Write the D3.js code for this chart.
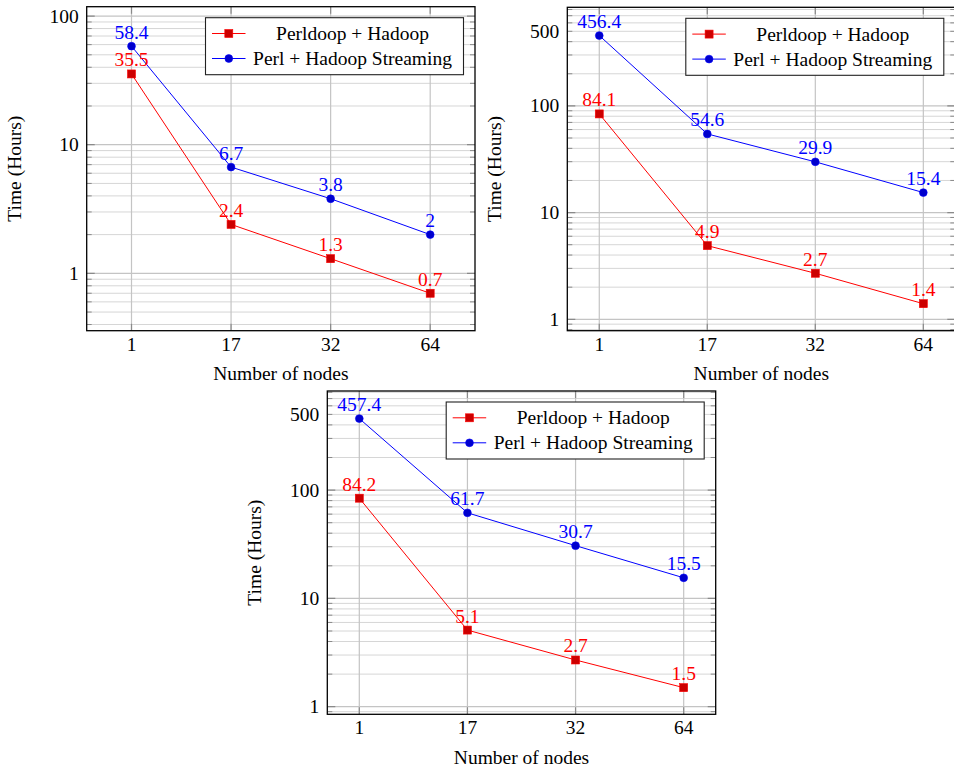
<!DOCTYPE html>
<html>
<head>
<meta charset="utf-8">
<script src="https://cdn.jsdelivr.net/npm/d3@7/dist/d3.min.js"></script>
<style>
  html, body { margin: 0; padding: 0; background: #fff; }
  svg { display: block; }
  text { font-family: "Liberation Serif", "Times New Roman", serif; }
</style>
</head>
<body>
<svg id="chart" width="954" height="771"></svg>
<script>
// ---- Data ----
const nodes = ["1", "17", "32", "64"];
const seriesNames = ["Perldoop + Hadoop", "Perl + Hadoop Streaming"];

const perldoopA = [35.5, 2.4, 1.3, 0.7];
const streamingA = [58.4, 6.7, 3.8, 2];

const perldoopB = [84.1, 4.9, 2.7, 1.4];
const streamingB = [456.4, 54.6, 29.9, 15.4];

const perldoopC = [84.2, 5.1, 2.7, 1.5];
const streamingC = [457.4, 61.7, 30.7, 15.5];

const yTickLabelsA = [1, 10, 100];
const yTickLabelsBC = [1, 10, 100, 500];

const xLabel = "Number of nodes";
const yLabel = "Time (Hours)";

// ---- Layout (panel frames and log-domain) ----
const panels = [
  { left: 86.7, top: 6.7, right: 475, bottom: 330.7, logLo: -0.446, logHi: 2.073, xpad: 0.45,
    red: perldoopA, blue: streamingA, yticks: yTickLabelsA },
  { left: 567.3, top: 7.3, right: 955.3, bottom: 330.7, logLo: -0.107, logHi: 2.924, xpad: 0.296,
    red: perldoopB, blue: streamingB, yticks: yTickLabelsBC },
  { left: 327.3, top: 391, right: 715.7, bottom: 714.3, logLo: -0.070, logHi: 2.915, xpad: 0.296,
    red: perldoopC, blue: streamingC, yticks: yTickLabelsBC }
];

const FS = 19.5;
const RED_LINE = "#ff0000", RED_FILL = "#cc0000";
const BLUE_LINE = "#0000ff", BLUE_FILL = "#0000cc";

const svg = d3.select("#chart");

function drawPanel(p) {
  const g = svg.append("g");
  const x = d3.scalePoint().domain(nodes).range([p.left, p.right]).padding(p.xpad);
  const y = d3.scaleLog().domain([Math.pow(10, p.logLo), Math.pow(10, p.logHi)]).range([p.bottom, p.top]);

  // clip
  const cid = "clip" + Math.round(p.left);
  svg.append("clipPath").attr("id", cid).append("rect")
    .attr("x", p.left).attr("y", p.top).attr("width", p.right - p.left).attr("height", p.bottom - p.top);
  const inner = g.append("g").attr("clip-path", `url(#${cid})`);

  const [d0, d1] = y.domain();
  const majors = [], minors = [];
  for (let e = Math.floor(Math.log10(d0)); e <= Math.ceil(Math.log10(d1)); e++) {
    const b = Math.pow(10, e);
    if (b >= d0 && b <= d1) majors.push(b);
    for (let k = 2; k <= 9; k++) {
      const v = k * b;
      if (v >= d0 && v <= d1) minors.push(v);
    }
  }

  // minor grid
  inner.selectAll(".mg").data(minors).join("line")
    .attr("x1", p.left).attr("x2", p.right)
    .attr("y1", d => y(d)).attr("y2", d => y(d))
    .attr("stroke", "#d6d6d6").attr("stroke-width", 1);
  // major grid
  inner.selectAll(".Mg").data(majors).join("line")
    .attr("x1", p.left).attr("x2", p.right)
    .attr("y1", d => y(d)).attr("y2", d => y(d))
    .attr("stroke", "#c4c4c4").attr("stroke-width", 1.2);
  inner.selectAll(".xg").data(nodes).join("line")
    .attr("x1", d => x(d)).attr("x2", d => x(d))
    .attr("y1", p.top).attr("y2", p.bottom)
    .attr("stroke", "#c4c4c4").attr("stroke-width", 1.2);

  // ticks (inward, both sides)
  const tickCol = "#8a8a8a";
  [p.left, p.right].forEach((ex, i) => {
    const dir = i === 0 ? 1 : -1;
    inner.selectAll(null).data(minors).join("line")
      .attr("x1", ex).attr("x2", ex + dir * 5)
      .attr("y1", d => y(d)).attr("y2", d => y(d))
      .attr("stroke", tickCol).attr("stroke-width", 1);
    inner.selectAll(null).data(majors).join("line")
      .attr("x1", ex).attr("x2", ex + dir * 8)
      .attr("y1", d => y(d)).attr("y2", d => y(d))
      .attr("stroke", tickCol).attr("stroke-width", 1.2);
  });
  [p.bottom, p.top].forEach((ey, i) => {
    const dir = i === 0 ? -1 : 1;
    inner.selectAll(null).data(nodes).join("line")
      .attr("x1", d => x(d)).attr("x2", d => x(d))
      .attr("y1", ey).attr("y2", ey + dir * 7)
      .attr("stroke", tickCol).attr("stroke-width", 1.2);
  });

  // series
  const line = d3.line().x((d, i) => x(nodes[i])).y(d => y(d));
  inner.append("path").datum(p.red).attr("d", line)
    .attr("fill", "none").attr("stroke", RED_LINE).attr("stroke-width", 1);
  inner.append("path").datum(p.blue).attr("d", line)
    .attr("fill", "none").attr("stroke", BLUE_LINE).attr("stroke-width", 1);

  const sq = 8;
  g.selectAll(null).data(p.red).join("rect")
    .attr("x", (d, i) => x(nodes[i]) - sq / 2).attr("y", d => y(d) - sq / 2)
    .attr("width", sq).attr("height", sq)
    .attr("fill", RED_FILL).attr("stroke", RED_LINE).attr("stroke-width", 0.6);
  g.selectAll(null).data(p.blue).join("circle")
    .attr("cx", (d, i) => x(nodes[i])).attr("cy", d => y(d)).attr("r", 3.9)
    .attr("fill", BLUE_FILL).attr("stroke", BLUE_LINE).attr("stroke-width", 0.6);

  // value labels
  g.selectAll(null).data(p.red).join("text")
    .attr("x", (d, i) => x(nodes[i])).attr("y", d => y(d) - 7.5)
    .attr("text-anchor", "middle").attr("font-size", FS).attr("fill", RED_LINE)
    .text(d => String(d));
  g.selectAll(null).data(p.blue).join("text")
    .attr("x", (d, i) => x(nodes[i])).attr("y", d => y(d) - 7.5)
    .attr("text-anchor", "middle").attr("font-size", FS).attr("fill", BLUE_LINE)
    .text(d => String(d));

  // frame
  g.append("rect").attr("x", p.left).attr("y", p.top)
    .attr("width", p.right - p.left).attr("height", p.bottom - p.top)
    .attr("fill", "none").attr("stroke", "#000").attr("stroke-width", 1.3);

  // tick labels
  g.selectAll(null).data(p.yticks).join("text")
    .attr("x", p.left - 8).attr("y", d => y(d)).attr("dy", "0.33em")
    .attr("text-anchor", "end").attr("font-size", FS).attr("fill", "#000")
    .text(d => String(d));
  g.selectAll(null).data(nodes).join("text")
    .attr("x", d => x(d)).attr("y", p.bottom + 20)
    .attr("text-anchor", "middle").attr("font-size", FS).attr("fill", "#000")
    .text(d => d);

  // axis labels
  g.append("text").attr("x", (p.left + p.right) / 2).attr("y", p.bottom + 49.5)
    .attr("text-anchor", "middle").attr("font-size", FS).text(xLabel);
  g.append("text")
    .attr("transform", `translate(${p.left - 66},${(p.top + p.bottom) / 2}) rotate(-90)`)
    .attr("text-anchor", "middle").attr("font-size", FS).text(yLabel);

  // legend
  const lw = 258, lh = 57;
  const lx = p.right - 11.5 - lw, ly = p.top + 11;
  const lg = g.append("g");
  lg.append("rect").attr("x", lx).attr("y", ly).attr("width", lw).attr("height", lh)
    .attr("fill", "#fff").attr("stroke", "#222").attr("stroke-width", 1.1);
  const rows = [
    { name: seriesNames[0], col: RED_LINE, fill: RED_FILL, mark: "sq" },
    { name: seriesNames[1], col: BLUE_LINE, fill: BLUE_FILL, mark: "ci" }
  ];
  rows.forEach((r, i) => {
    const ry = ly + 15.8 + i * 25;
    lg.append("line").attr("x1", lx + 6.5).attr("x2", lx + 40).attr("y1", ry).attr("y2", ry)
      .attr("stroke", r.col).attr("stroke-width", 1);
    const mx = lx + 23.3;
    if (r.mark === "sq") {
      lg.append("rect").attr("x", mx - 4).attr("y", ry - 4).attr("width", 8).attr("height", 8)
        .attr("fill", r.fill).attr("stroke", r.col).attr("stroke-width", 0.6);
    } else {
      lg.append("circle").attr("cx", mx).attr("cy", ry).attr("r", 3.9)
        .attr("fill", r.fill).attr("stroke", r.col).attr("stroke-width", 0.6);
    }
    lg.append("text").attr("x", lx + 147).attr("y", ry).attr("dy", "0.33em")
      .attr("text-anchor", "middle").attr("font-size", FS).attr("fill", "#000").text(r.name);
  });
}

panels.forEach(drawPanel);
</script>
</body>
</html>
